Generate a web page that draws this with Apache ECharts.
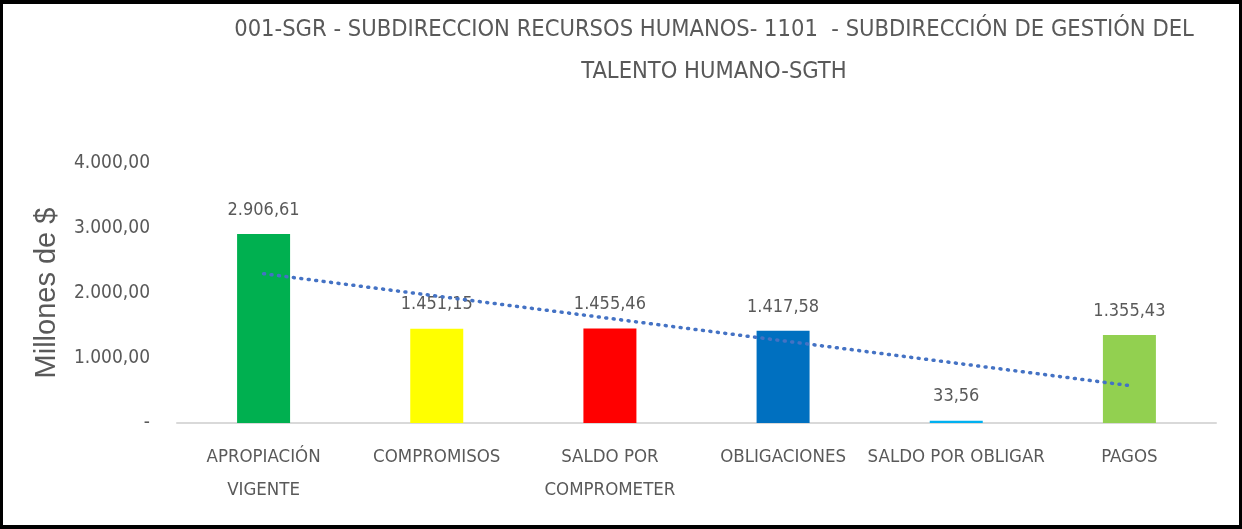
<!DOCTYPE html>
<html>
<head>
<meta charset="utf-8">
<script src="https://cdn.jsdelivr.net/npm/echarts@6/dist/echarts.min.js"></script>
<style>
html,body{margin:0;padding:0;background:#fff;}
#frame{width:1242px;height:529px;box-sizing:border-box;border:3px solid #000;border-top-width:4px;border-bottom-width:4px;position:relative;overflow:hidden;}
#chart{position:absolute;left:-3px;top:-4px;width:1242px;height:529px;}
</style>
</head>
<body>
<div id="frame"><div id="chart"></div></div>
<script>
const titleLines = ['001-SGR - SUBDIRECCION RECURSOS HUMANOS- 1101  - SUBDIRECCIÓN DE GESTIÓN DEL', 'TALENTO HUMANO-SGTH'];
const categories = ['APROPIACIÓN\nVIGENTE', 'COMPROMISOS', 'SALDO POR\nCOMPROMETER', 'OBLIGACIONES', 'SALDO POR OBLIGAR', 'PAGOS'];
const values = [2906.61, 1451.15, 1455.46, 1417.58, 33.56, 1355.43];
const barColors = ['#00B050', '#FFFF00', '#FF0000', '#0070C0', '#00B0F0', '#92D050'];
const yAxisName = 'Millones de $';

// Linear trendline (least squares) computed from the bar values, as in the source spreadsheet
const n = values.length;
const xs = values.map((_, i) => i + 1);
const mx = xs.reduce((a, b) => a + b, 0) / n;
const my = values.reduce((a, b) => a + b, 0) / n;
let sxy = 0, sxx = 0;
xs.forEach((x, i) => { sxy += (x - mx) * (values[i] - my); sxx += (x - mx) * (x - mx); });
const slope = sxy / sxx;
const trend = xs.map(x => my + slope * (x - mx));

function fmt(v, dec) {
  const parts = v.toFixed(dec).split('.');
  parts[0] = parts[0].replace(/\B(?=(\d{3})+(?!\d))/g, '.');
  return parts.join(',');
}

const FONT = '"Liberation Sans Narrow", "DejaVu Sans Condensed", "Liberation Sans", sans-serif';
const GREY = '#595959';

const chart = echarts.init(document.getElementById('chart'));
chart.setOption({
  backgroundColor: '#fff',
  animation: false,
  title: {
    text: titleLines.join('\n'),
    left: 709,
    top: 4,
    textAlign: 'center',
    textStyle: { fontFamily: FONT, fontSize: 23.5, fontWeight: 'normal', color: GREY, lineHeight: 42 }
  },
  grid: { left: 177, right: 26, top: 163, bottom: 106 },
  xAxis: {
    type: 'category',
    data: categories,
    axisLine: { lineStyle: { color: '#D9D9D9', width: 2 } },
    axisTick: { show: false },
    axisLabel: { fontFamily: FONT, fontSize: 18.5, color: GREY, lineHeight: 33, margin: 18, interval: 0 }
  },
  yAxis: {
    type: 'value',
    min: 0, max: 4000, interval: 1000,
    name: yAxisName,
    nameLocation: 'middle',
    nameGap: 116,
    nameRotate: 90,
    nameTextStyle: { fontFamily: '"Liberation Sans", Arial, sans-serif', fontSize: 29, color: GREY },
    axisLine: { show: false },
    axisTick: { show: false },
    splitLine: { show: false },
    axisLabel: {
      fontFamily: FONT, fontSize: 19, color: GREY, margin: 27,
      formatter: v => v === 0 ? '-' : fmt(v, 2)
    }
  },
  series: [
    {
      type: 'bar',
      barWidth: 53,
      data: values.map((v, i) => ({ value: v, itemStyle: { color: barColors[i] } })),
      label: {
        show: true, position: 'top', distance: 15,
        fontFamily: FONT, fontSize: 18, color: GREY,
        formatter: p => fmt(p.value, 2)
      }
    },
    {
      type: 'line',
      data: trend,
      symbol: 'none',
      z: 3,
      lineStyle: { color: '#4472C4', width: 3.5, type: [1, 6.5], cap: 'round' },
      silent: true
    }
  ]
});
</script>
</body>
</html>
